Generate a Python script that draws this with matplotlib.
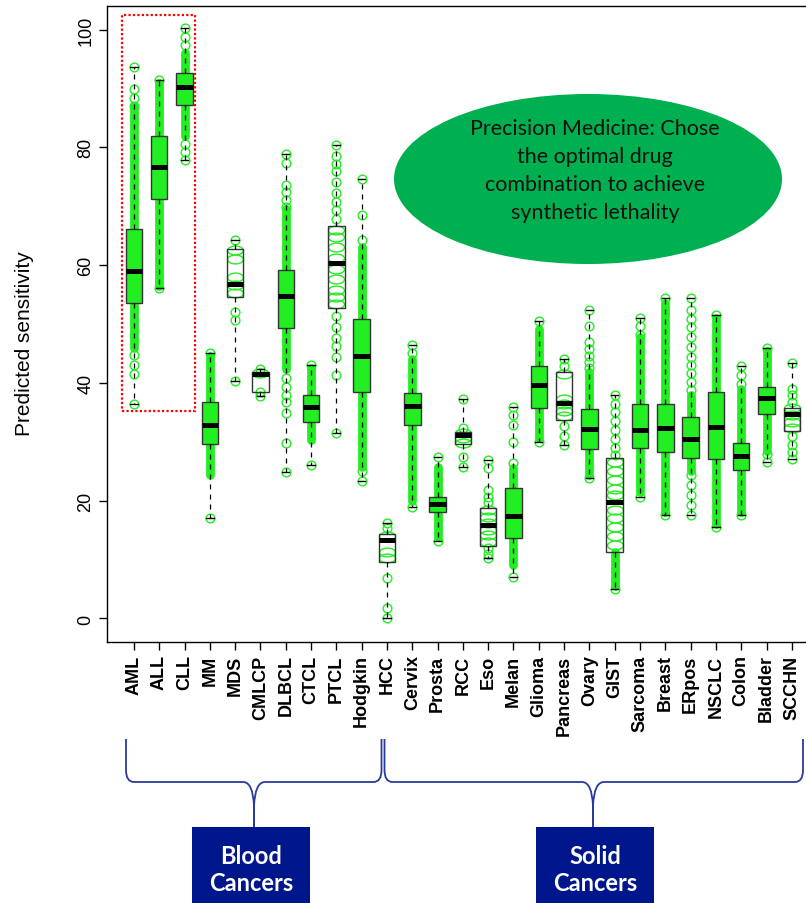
import numpy as np
import matplotlib
matplotlib.use("Agg")
import matplotlib.pyplot as plt
from matplotlib.patches import Rectangle, Ellipse
from matplotlib.path import Path
from matplotlib.patches import PathPatch

plt.rcParams["font.family"] = ["Liberation Sans", "DejaVu Sans"]

# box statistics
categories = ["AML", "ALL", "CLL", "MM", "MDS", "CMLCP", "DLBCL", "CTCL", "PTCL",
              "Hodgkin", "HCC", "Cervix", "Prosta", "RCC", "Eso", "Melan", "Glioma",
              "Pancreas", "Ovary", "GIST", "Sarcoma", "Breast", "ERpos", "NSCLC",
              "Colon", "Bladder", "SCCHN"]
whisker_low = [36.5, 56.1, 77.9, 17.1, 40.3, 37.8, 24.9, 26.0, 31.5, 23.3, 0.1, 19.0, 13.1,
               25.7, 10.2, 7.1, 29.9, 29.4, 23.8, 5.0, 20.7, 17.5, 17.5, 15.6, 17.5, 26.6, 27.0]
q1 = [53.5, 71.3, 87.2, 29.7, 54.6, 38.5, 49.3, 33.4, 52.7, 38.5, 9.6, 32.8, 18.1,
      29.6, 12.3, 13.7, 35.7, 33.7, 28.7, 11.2, 29.0, 28.3, 27.2, 27.0, 25.2, 34.7, 31.8]
median = [59.0, 76.6, 90.2, 32.9, 56.8, 41.5, 54.7, 35.9, 60.3, 44.5, 13.4, 36.0, 19.4,
          31.1, 15.9, 17.4, 39.6, 36.6, 32.1, 19.7, 32.0, 32.3, 30.5, 32.5, 27.6, 37.4, 34.8]
q3 = [66.1, 81.9, 92.6, 36.7, 62.8, 41.8, 59.1, 38.0, 66.6, 50.8, 14.3, 38.2, 20.6,
      31.6, 18.8, 22.1, 42.9, 41.8, 35.5, 27.3, 36.5, 36.5, 34.2, 38.5, 29.8, 39.3, 35.8]
whisker_high = [93.6, 91.4, 100.3, 45.0, 64.2, 42.3, 78.8, 43.0, 80.4, 74.6, 16.2, 46.5, 27.4,
                37.2, 26.9, 35.9, 50.5, 44.1, 52.3, 37.9, 51.0, 54.4, 54.4, 51.5, 42.9, 46.0, 43.3]

# ranges where the green circles overlap into a solid column
dense_ranges = {
    "AML": [(46, 87)], "ALL": [(56.5, 91)], "CLL": [(82, 96)], "MM": [(24.3, 44.5)],
    "DLBCL": [(42.4, 69.5)], "CTCL": [(30.3, 42.5)], "Hodgkin": [(25.8, 63)],
    "Cervix": [(20, 44)], "Prosta": [(13.9, 25.8)], "Melan": [(9.1, 25.5)],
    "Glioma": [(30.6, 49.2)], "Ovary": [(24.3, 41.9)], "GIST": [(5.5, 11.2)],
    "Sarcoma": [(21.5, 47.8)], "Breast": [(18, 53.5)], "ERpos": [(25, 38)],
    "NSCLC": [(16, 51)], "Colon": [(18, 39)], "Bladder": [(28.5, 45.5)],
}

# separate circles that can still be seen
points = {
    "AML": [93.6, 89.9, 88.3, 87.1, 44.7, 43.0, 41.5, 36.5],
    "ALL": [91.4, 56.1],
    "CLL": [100.3, 98.8, 97.3, 80.5, 79.2, 77.9],
    "MM": [45.0, 17.1],
    "MDS": [64.2, 62.5, 61.1, 58.0, 56.6, 55.2, 52.1, 50.6, 40.3],
    "CMLCP": [42.4, 41.7, 38.5, 37.8],
    "DLBCL": [78.8, 77.4, 73.6, 72.4, 71.0, 69.9, 40.9, 39.3, 37.9, 36.8, 34.9, 29.8, 24.9],
    "CTCL": [43.0, 26.0],
    "PTCL": [80.4, 78.6, 77.1, 75.9, 74.1, 72.3, 70.8, 69.3, 67.8, 66.0, 64.8, 63.0, 61.2,
             59.4, 57.6, 55.8, 54.6, 53.4, 51.3, 49.5, 47.7, 46.2, 44.4, 41.3, 31.5],
    "Hodgkin": [74.6, 68.5, 64.2, 25.0, 23.3],
    "HCC": [16.2, 15.3, 14.0, 11.3, 10.3, 6.8, 1.7, 0.1],
    "Cervix": [46.5, 45.0, 19.0],
    "Prosta": [27.4, 13.1],
    "RCC": [37.2, 32.3, 31.5, 30.6, 29.8, 27.5, 25.7],
    "Eso": [26.9, 25.6, 21.8, 20.6, 19.7, 18.5, 17.3, 16.2, 15.1, 14.1, 13.0, 12.0, 11.0, 10.2],
    "Melan": [35.9, 34.5, 32.8, 29.9, 26.4, 7.1],
    "Glioma": [50.5, 29.9],
    "Pancreas": [44.1, 42.8, 41.5, 37.3, 36.4, 35.3, 34.4, 32.7, 31.0, 29.4],
    "Ovary": [52.3, 49.7, 46.9, 45.7, 44.6, 43.5, 42.6, 23.8],
    "GIST": [37.9, 36.5, 35.0, 33.5, 32.0, 30.5, 29.0, 27.8, 26.5, 25.0, 23.5, 22.0, 21.0,
             18.5, 17.0, 15.5, 14.0, 12.5, 5.0],
    "Sarcoma": [51.0, 49.7, 48.2, 20.7],
    "Breast": [54.4, 17.5],
    "ERpos": [54.4, 52.3, 50.9, 49.5, 47.8, 46.1, 44.4, 43.0, 41.6, 40.2, 38.8,
              24.3, 22.6, 20.9, 19.2, 17.5],
    "NSCLC": [51.5, 15.6],
    "Colon": [42.9, 41.3, 39.8, 17.5],
    "Bladder": [46.0, 28.0, 26.6],
    "SCCHN": [43.3, 39.0, 37.9, 36.8, 35.7, 34.6, 33.4, 32.3, 30.9, 29.5, 28.3, 27.0],
}

GREEN = "#22ee22"
W, H = 806, 904
fig = plt.figure(figsize=(W / 100, H / 100), dpi=100)
ax = fig.add_axes([107 / W, 1 - 643 / H, 1 - 107 / W, (643 - 7) / H])

positions = np.arange(1, len(categories) + 1)
box_w = 0.65

# ellipse marker for points spread over the box width
circ = Path.unit_circle()
oval = Path(circ.vertices * [1.0, 0.55], circ.codes)

for i, cat in enumerate(categories):
    x = positions[i]
    for lo, hi in dense_ranges.get(cat, []):
        lc = ax.vlines(x, lo, hi, color=GREEN, linewidth=6.3, zorder=2)
        lc.set_capstyle("round")
    vals = np.array(points.get(cat, []))
    inside = (vals > q1[i]) & (vals < q3[i])
    ax.plot(np.full((~inside).sum(), x), vals[~inside], "o", mfc="none", mec=GREEN,
            ms=6.3, mew=1.0, zorder=2)
    ax.plot(np.full(inside.sum(), x), vals[inside], marker=oval, ls="none", mfc="none",
            mec=GREEN, ms=11.5, mew=1.0, zorder=2)

stats = []
for i, cat in enumerate(categories):
    stats.append(dict(label=cat, whislo=whisker_low[i], q1=q1[i], med=median[i],
                      q3=q3[i], whishi=whisker_high[i], fliers=[]))

bp = ax.bxp(stats, positions=positions, widths=box_w, capwidths=box_w * 0.45,
            patch_artist=True, showfliers=False, manage_ticks=False, zorder=3,
            boxprops=dict(facecolor="none", edgecolor="#333333", linewidth=1.0),
            whiskerprops=dict(color="black", linewidth=0.9, linestyle=(0, (4, 4))),
            capprops=dict(color="black", linewidth=1.0),
            medianprops=dict(color="black", linewidth=3.6, solid_capstyle="butt"))

# boxes crowded with points look solid green
for i, cat in enumerate(categories):
    if any(lo < q3[i] and hi > q1[i] for lo, hi in dense_ranges.get(cat, [])):
        bp["boxes"][i].set_facecolor(GREEN)

ax.set_xlim(-0.065, 27.56)
ax.set_ylim(-4, 104)
ax.set_xticks(positions)
ax.set_xticklabels(categories, rotation=90, fontsize=13, fontweight="bold")
ax.set_yticks([0, 20, 40, 60, 80, 100])
ax.set_yticklabels(["0", "20", "40", "60", "80", "100"], rotation=90, va="center", fontsize=13)
ax.tick_params(axis="both", length=6, width=1, pad=3)
ax.spines["right"].set_visible(False)
for s in ["left", "top", "bottom"]:
    ax.spines[s].set_linewidth(1.0)
ax.set_ylabel("Predicted sensitivity", fontsize=15)
ax.yaxis.set_label_coords(-0.105, 0.47)

# red dotted frame round the blood cancers AML-CLL
ax.add_patch(Rectangle((0.53, 35.3), 2.88, 67.1, fill=False, edgecolor="red",
                       linestyle=(0, (1, 1)), linewidth=1.6, zorder=4, clip_on=False))

# overlay in pixel coordinates for the annotations
ov = fig.add_axes([0, 0, 1, 1])
ov.set_xlim(0, W)
ov.set_ylim(H, 0)
ov.axis("off")

ov.add_patch(Ellipse((588, 180), 388, 170, facecolor="#00b050", edgecolor="none"))
ov.text(595, 171, "Precision Medicine: Chose\nthe optimal drug\ncombination to achieve\nsynthetic lethality",
        ha="center", va="center", fontsize=15.5, family="Lato", linespacing=1.5, color="#111111")

def brace(x0, x1, xm, ytop=740, yh=783, ybot=828, col="#2b3a9a"):
    for xe, sgn in [(x0, 1), (x1, -1)]:
        verts = [(xe, ytop), (xe, yh - 12), (xe, yh), (xe + sgn * 8, yh),
                 (xm - sgn * 11, yh), (xm - sgn * 1, yh), (xm, yh + 24), (xm, ybot)]
        codes = [Path.MOVETO, Path.LINETO, Path.CURVE3, Path.CURVE3,
                 Path.LINETO, Path.CURVE3, Path.CURVE3, Path.LINETO]
        ov.add_patch(PathPatch(Path(verts, codes), facecolor="none", edgecolor=col, lw=1.3))

brace(126, 381.5, 254)
brace(384.5, 803, 593)

for cx, label in [(251, "Blood\nCancers"), (595, "Solid\nCancers")]:
    ov.add_patch(Rectangle((cx - 59, 828), 118, 80, facecolor="#00168c", edgecolor="none"))
    ov.text(cx, 870, label, ha="center", va="center", color="white", fontsize=17,
            fontweight="bold", family="Lato", linespacing=1.25)

fig.savefig("out.png", dpi=100)
